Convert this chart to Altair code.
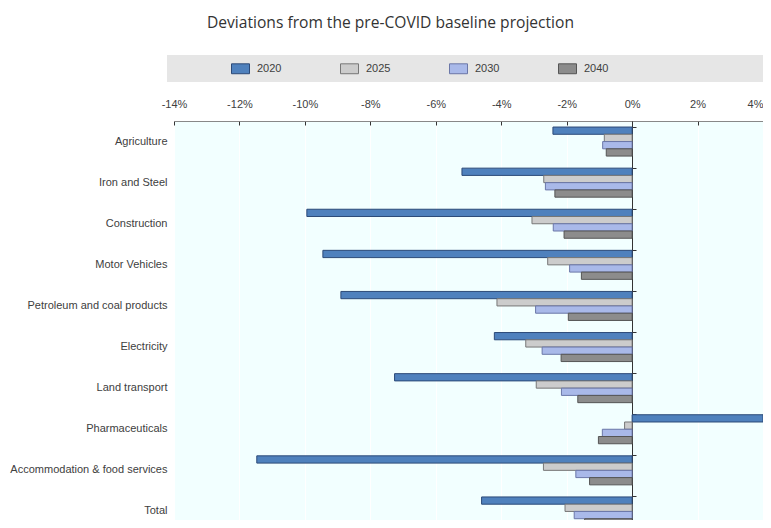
import altair as alt
import pandas as pd

categories = ["Agriculture", "Iron and Steel", "Construction", "Motor Vehicles",
              "Petroleum and coal products", "Electricity", "Land transport",
              "Pharmaceuticals", "Accommodation & food services", "Total"]
years = ["2020", "2025", "2030", "2040"]
v2020 = [-2.42, -5.2, -9.94, -9.45, -8.9, -4.21, -7.26, 4.0, -11.47, -4.6]
v2025 = [-0.85, -2.7, -3.06, -2.58, -4.13, -3.25, -2.93, -0.23, -2.71, -2.05]
v2030 = [-0.9, -2.65, -2.41, -1.91, -2.95, -2.75, -2.16, -0.91, -1.72, -1.77]
v2040 = [-0.79, -2.36, -2.08, -1.55, -1.95, -2.17, -1.66, -1.03, -1.3, -1.45]

fills = ["#4f81bd", "#cccccc", "#a9b9e9", "#8c8c8c"]
strokes = ["#2c4a78", "#777777", "#6b77a8", "#555555"]
ticks = [-14, -12, -10, -8, -6, -4, -2, 0, 2, 4]

rows = []
for y, vals in zip(years, [v2020, v2025, v2030, v2040]):
    for c, v in zip(categories, vals):
        rows.append({"sector": c, "year": y, "value": v})
df = pd.DataFrame(rows)

FONT = "Liberation Sans, Arial"
FS = 11
yscale = alt.Scale(domain=categories, range=[0, 411], paddingInner=0.294, paddingOuter=0.147)

band = alt.Chart(alt.Data(values=[{}])).mark_rect(fill="#e6e6e6").encode(
    x=alt.value(-7), x2=alt.value(600), y=alt.value(-66), y2=alt.value(-39)
)

bars = alt.Chart(df).mark_bar(strokeWidth=1).encode(
    y=alt.Y("sector:N", sort=categories, scale=yscale,
            axis=alt.Axis(title=None, ticks=False, domain=False, labelPadding=7,
                          labelFont=FONT, labelFontSize=FS, labelColor="#404040")),
    yOffset=alt.YOffset("year:N", sort=years, scale=alt.Scale(paddingInner=0, paddingOuter=0)),
    x=alt.X("value:Q", scale=alt.Scale(domain=[-14, 4], nice=False),
            axis=alt.Axis(orient="top", values=ticks, labelExpr="datum.value + '%'",
                          offset=-4, tickSize=4, tickColor="#333", labelPadding=12,
                          labelFlush=False, labelOverlap=False,
                          labelAlign=alt.ExprRef(expr="datum.value >= 4 ? 'right' : 'center'"),
                          domain=False, grid=True, gridColor="#ffffff", title=None,
                          labelFont=FONT, labelFontSize=FS, labelColor="#404040")),
    fill=alt.Fill("year:N", sort=years, scale=alt.Scale(domain=years, range=fills),
                  legend=alt.Legend(title=None, orient="none", direction="horizontal",
                                    legendX=57, legendY=-62,
                                    symbolType="M-1,-0.55H1V0.55H-1Z", symbolSize=324,
                                    symbolStrokeColor="#555", symbolStrokeWidth=1,
                                    labelOffset=7, columnPadding=56,
                                    labelFont=FONT, labelFontSize=FS, labelColor="#404040")),
    stroke=alt.Stroke("year:N", sort=years, scale=alt.Scale(domain=years, range=strokes), legend=None),
)

zero = alt.Chart(df).mark_rule(opacity=0).encode(
    x=alt.datum(0),
    y=alt.Y("sector:N", sort=categories, scale=yscale,
            axis=alt.Axis(orient="right", offset=-131, labels=False, ticks=True,
                          bandPosition=0, tickSize=4, tickColor="#333",
                          domain=True, domainColor="#333", title=None)),
)

chart = alt.layer(band, bars, zero).resolve_axis(y="independent").properties(
    width=589, height=399,
    autosize=alt.AutoSizeParams(type="none"),
    padding={"left": 166, "top": 113, "right": 0, "bottom": 0},
    title=alt.TitleParams("Deviations from the pre-COVID baseline projection",
                          font="Open Sans", fontSize=15.6, fontWeight="normal",
                          color="#333333", anchor="middle", frame="group", dx=-78, offset=23),
).configure_view(fill="#f2ffff", stroke="#888888")

chart.save("out.html", embed_options={"renderer": "svg", "actions": False})
